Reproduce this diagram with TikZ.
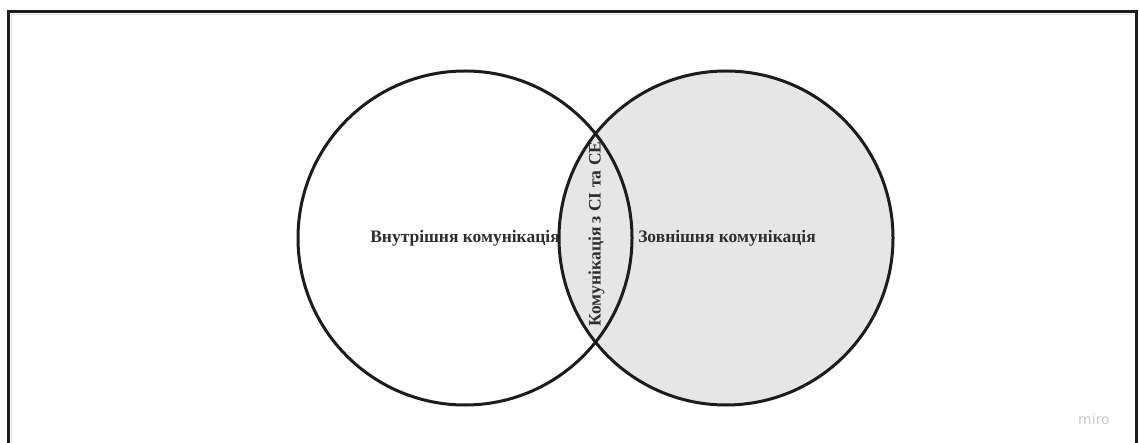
\documentclass[tikz,border=0pt]{standalone}
\usepackage{fontspec}
\setmainfont{Liberation Serif}
\setsansfont{Liberation Sans}
\newfontfamily\markfont{DejaVu Sans}
\definecolor{framegray}{HTML}{1C1C1C}
\definecolor{inkgray}{HTML}{2E2E2E}
\definecolor{setfill}{HTML}{E6E6E6}
\definecolor{wmark}{HTML}{C8CAD4}
\tikzset{
  setcircle/.style={draw=framegray, line width=3pt},
  setlabel/.style={text=inkgray, font=\fontsize{17.5}{20}\selectfont\bfseries, inner sep=0pt},
}
\begin{document}
\begin{tikzpicture}[x=1pt, y=-1pt]
  \useasboundingbox (0,0) rectangle (1139,443);
  \clip (0,0) rectangle (1139,443);
  \fill[white] (0,0) rectangle (1139,443);
  % board frame, open at the bottom
  \draw[draw=framegray, line width=3pt] (8.5,460) -- (8.5,12) -- (1136.5,12) -- (1136.5,460);
  \draw[draw=black!12, line width=1pt] (11,460) -- (11,14.5) -- (1134,14.5);
  % the two sets
  \coordinate (cl) at (465,238);
  \coordinate (cr) at (726,238);
  \fill[setfill] (cr) circle[radius=167];
  \draw[setcircle] (cl) circle[radius=167];
  \draw[setcircle] (cr) circle[radius=167];
  % labels
  \node[setlabel] (inner) at (465,238) {Внутрішня комунікація};
  \node[setlabel] (outer) at (727,238) {Зовнішня комунікація};
  \node[setlabel, rotate=90] (both) at (596.5,234) {Комунікація з СІ та СЕ};
  \node[text=wmark, font=\markfont\fontsize{14}{16}\selectfont, inner sep=0pt] (mark) at (1094,419) {miro};
\end{tikzpicture}
\end{document}
